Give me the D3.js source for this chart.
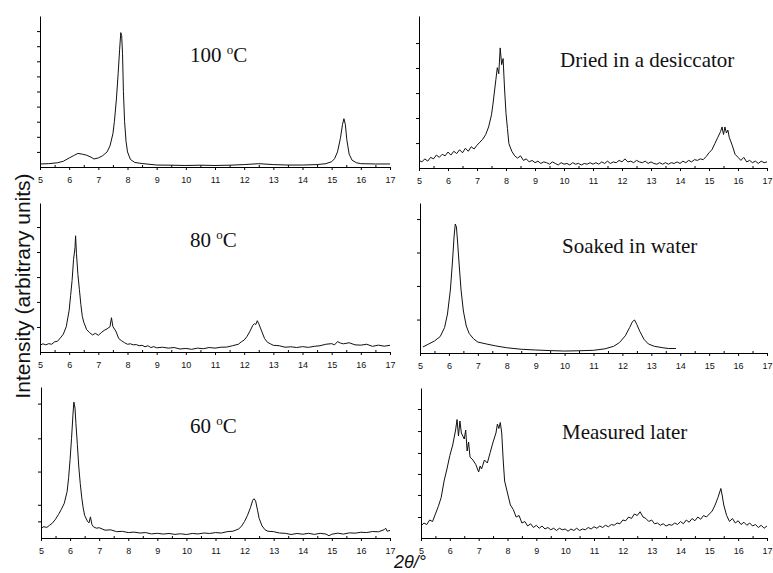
<!DOCTYPE html>
<html lang="en">
<head>
	<meta charset="UTF-8">
	<title>XRD</title>

	<script src="https://cdn.jsdelivr.net/npm/d3@7"></script>

	<style>
		body {
			margin: 0;
			background: #fff;
		}

		.axis path, .axis line {
			stroke: #000;
			stroke-width: 1;
		}

		.axis text {
			font-family: "Liberation Sans", Arial, sans-serif;
			font-size: 9px;
			fill: #111;
		}

		.trace {
			fill: none;
			stroke: #111;
			stroke-width: 1;
		}

		.title {
			font-family: "Liberation Serif", "Times New Roman", serif;
			font-size: 21px;
			fill: #111;
		}
	</style>

</head>
<body>

<script type="text/javascript">

	// 2theta tick labels
	var thetaTicks = [5, 6, 7, 8, 9, 10, 11, 12, 13, 14, 15, 16, 17];
	var thetaMinor = [5.5, 6.5, 7.5, 8.5, 9.5, 10.5, 11.5, 12.5, 13.5, 14.5, 15.5, 16.5];

	var panelTitles = ['100 °C', 'Dried in a desiccator', '80 °C', 'Soaked in water', '60 °C', 'Measured later'];

	// intensity, 0..100 = bottom..top of its axis
	var s100C = [[5.0, 2], [5.3, 2.2], [5.6, 2.8], [5.8, 3.8], [6.0, 6], [6.15, 7.5], [6.3, 9], [6.45, 8.5], [6.6, 7.8],
		[6.75, 6.5], [6.85, 5.3], [7.0, 6], [7.15, 7.5], [7.3, 10], [7.4, 14], [7.5, 22], [7.55, 30], [7.62, 45],
		[7.68, 62], [7.73, 78], [7.77, 89], [7.8, 87], [7.83, 75], [7.86, 50], [7.9, 30], [7.95, 17], [8.0, 10],
		[8.1, 5], [8.25, 3], [8.5, 2.3], [9.0, 1.3], [9.5, 1.2], [10.0, 1], [10.5, 1.2], [11.0, 1], [11.5, 1.2],
		[12.0, 1.6], [12.5, 2.2], [13.0, 1.6], [13.5, 1.3], [14.0, 1.3], [14.5, 1.6], [14.8, 2.2], [15.0, 3.5],
		[15.1, 5.5], [15.2, 10], [15.3, 19], [15.37, 28], [15.42, 32], [15.47, 28], [15.52, 18], [15.6, 8.5],
		[15.7, 4.5], [15.85, 2.8], [16.0, 2.2], [16.5, 2], [17.0, 2]];

	var sDried = [[5.0, 5], [5.1, 4], [5.2, 6], [5.3, 4.5], [5.4, 7], [5.5, 6], [5.6, 8.5], [5.7, 7], [5.8, 9], [5.9, 8],
		[6.0, 10.5], [6.1, 8.5], [6.2, 11], [6.3, 9.5], [6.4, 12], [6.5, 10], [6.6, 13], [6.7, 11], [6.8, 14],
		[6.9, 12.5], [7.0, 15], [7.1, 17], [7.2, 19], [7.3, 22], [7.4, 27], [7.5, 35], [7.55, 42], [7.6, 50],
		[7.65, 58], [7.7, 66], [7.75, 62], [7.8, 79], [7.85, 68], [7.9, 72], [7.95, 52], [8.0, 36], [8.05, 26],
		[8.1, 16], [8.2, 11], [8.3, 8], [8.4, 6.5], [8.5, 8], [8.6, 5], [8.7, 6], [8.8, 4], [8.9, 5], [9.0, 3.5],
		[9.1, 4.5], [9.2, 3], [9.3, 4], [9.4, 3.5], [9.5, 2.5], [9.6, 4], [9.7, 3], [9.8, 2], [9.9, 3.5], [10.0, 2.5],
		[10.1, 3], [10.2, 2], [10.3, 3.5], [10.4, 2.5], [10.5, 3], [10.6, 2], [10.7, 3], [10.8, 2.5], [10.9, 3.5],
		[11.0, 2.5], [11.1, 3.5], [11.2, 2.5], [11.3, 4], [11.4, 3], [11.5, 4.5], [11.6, 3], [11.7, 4], [11.8, 3.5],
		[11.9, 5], [12.0, 4], [12.1, 6], [12.2, 4], [12.3, 4.5], [12.4, 3.5], [12.5, 5], [12.6, 4], [12.7, 3.5],
		[12.8, 4.5], [12.9, 3], [13.0, 4], [13.1, 3], [13.2, 2.5], [13.3, 3.5], [13.4, 2.5], [13.5, 3.5], [13.6, 2.5],
		[13.7, 3.5], [13.8, 3], [13.9, 4], [14.0, 3], [14.1, 4.5], [14.2, 3.5], [14.3, 5], [14.4, 4], [14.5, 5.5],
		[14.6, 5], [14.7, 6], [14.8, 5.5], [14.9, 7.5], [15.0, 10], [15.1, 12], [15.2, 16], [15.3, 20], [15.4, 24],
		[15.45, 27], [15.5, 22], [15.55, 27], [15.6, 23], [15.65, 25], [15.7, 20], [15.8, 15], [15.9, 9], [16.0, 7],
		[16.1, 5], [16.2, 7], [16.3, 4], [16.4, 5], [16.5, 3.5], [16.6, 4.5], [16.7, 3], [16.8, 4.5], [16.9, 3.5],
		[17.0, 4]];

	var s80C = [[5.0, 4.5], [5.1, 5.5], [5.2, 4.8], [5.3, 5.6], [5.4, 5.2], [5.5, 6.8], [5.6, 7.2], [5.7, 9.5], [5.8, 12],
		[5.9, 17], [6.0, 28], [6.05, 38], [6.1, 48], [6.15, 62], [6.2, 70], [6.22, 78], [6.25, 66], [6.3, 52],
		[6.35, 42], [6.4, 32], [6.45, 24], [6.5, 20], [6.6, 15], [6.7, 13], [6.8, 11.5], [6.9, 12.5], [7.0, 11.2],
		[7.1, 13], [7.2, 14.5], [7.3, 15.5], [7.4, 17], [7.45, 23], [7.5, 17], [7.6, 14], [7.7, 9], [7.8, 7.5], [7.9, 6.2],
		[8.0, 5.2], [8.1, 5.5], [8.2, 4.8], [8.3, 5], [8.4, 4.2], [8.5, 4.5], [8.6, 3.5], [8.7, 4.2], [8.8, 3], [8.9, 3.6],
		[9.0, 2.8], [9.2, 3.2], [9.4, 2.6], [9.6, 3], [9.8, 2], [10.0, 2.4], [10.2, 1.8], [10.4, 2.6], [10.6, 2.2],
		[10.8, 3], [11.0, 2.6], [11.2, 3.2], [11.4, 3.3], [11.6, 4.2], [11.8, 5.2], [11.9, 6.8], [12.0, 8], [12.1, 10.5],
		[12.2, 14], [12.3, 18], [12.35, 19], [12.4, 18.5], [12.45, 21], [12.5, 19], [12.6, 14], [12.7, 9],
		[12.8, 6.5], [12.9, 5.5], [13.0, 4.5], [13.2, 4.2], [13.4, 3.2], [13.6, 3.5], [13.8, 3], [14.0, 3.6], [14.2, 3.1],
		[14.4, 3.8], [14.6, 4.2], [14.8, 5.2], [15.0, 5.6], [15.1, 4.8], [15.2, 7], [15.3, 6], [15.4, 5.5], [15.6, 6.2],
		[15.8, 4.8], [16.0, 4.6], [16.2, 5.2], [16.4, 3.8], [16.6, 4.6], [16.8, 3.9], [17.0, 4.5]];

	var sSoaked = [[5.1, 4], [5.3, 6], [5.5, 8], [5.7, 11], [5.85, 17], [5.95, 26], [6.05, 42], [6.12, 60], [6.18, 78],
		[6.22, 86], [6.26, 84], [6.3, 74], [6.35, 60], [6.42, 42], [6.5, 28], [6.6, 18], [6.7, 13], [6.85, 9.5],
		[7.0, 7.3], [7.3, 6], [7.6, 4.8], [8.0, 3.5], [8.5, 2.5], [9.0, 2], [9.5, 1.6], [10.0, 1.3], [10.5, 1.5],
		[11.0, 1.8], [11.4, 2.8], [11.7, 4.5], [11.9, 7], [12.1, 11.5], [12.25, 17], [12.35, 21], [12.42, 22],
		[12.5, 19], [12.6, 14.5], [12.75, 9], [12.9, 6], [13.1, 4.5], [13.4, 3.5], [13.6, 3], [13.85, 3]];

	var s60C = [[5.0, 6.5], [5.1, 7.5], [5.2, 7], [5.3, 8.5], [5.4, 10], [5.5, 12.5], [5.6, 15.5], [5.7, 19], [5.8, 23],
		[5.9, 31], [5.95, 40], [6.0, 52], [6.05, 66], [6.1, 82], [6.13, 90], [6.17, 86], [6.2, 76], [6.25, 62],
		[6.3, 47], [6.35, 36], [6.4, 27], [6.45, 20], [6.5, 15], [6.6, 11], [6.65, 10], [6.7, 14], [6.75, 9],
		[6.8, 7.5], [6.9, 6.5], [7.0, 6.8], [7.2, 5.2], [7.4, 5.4], [7.6, 4.2], [7.8, 4.4], [8.0, 3.6], [8.2, 3.9], [8.4, 3.3],
		[8.6, 3.6], [8.8, 2.7], [9.0, 3.1], [9.2, 2.6], [9.4, 3], [9.6, 2.4], [9.8, 2.8], [10.0, 2.3], [10.2, 3],
		[10.4, 2.7], [10.6, 3.3], [10.8, 3], [11.0, 3.6], [11.2, 3.3], [11.4, 4.2], [11.6, 4.5], [11.8, 6], [11.9, 8],
		[12.0, 11], [12.1, 15], [12.2, 20], [12.28, 25], [12.32, 26], [12.38, 24.5], [12.45, 18], [12.5, 13],
		[12.6, 8], [12.7, 5.5], [12.8, 4.5], [13.0, 4.2], [13.2, 3.3], [13.4, 3.1], [13.6, 2.3], [13.8, 3], [14.0, 2.5],
		[14.2, 3.1], [14.4, 2.4], [14.6, 3.1], [14.8, 2.6], [14.9, 1.5], [15.0, 2.5], [15.2, 3.2], [15.4, 2.6], [15.6, 3.4],
		[15.8, 3.2], [16.0, 3.8], [16.2, 3.6], [16.4, 4.3], [16.6, 4.1], [16.8, 5.5], [16.85, 6.5], [16.9, 4.5], [17.0, 5]];

	var sLater = [[5.0, 8], [5.1, 10], [5.2, 9], [5.3, 12], [5.4, 11], [5.5, 16], [5.6, 21], [5.7, 27], [5.8, 38],
		[5.9, 46], [6.0, 55], [6.1, 62], [6.2, 72], [6.25, 79], [6.3, 68], [6.35, 78], [6.4, 70], [6.5, 66],
		[6.55, 72], [6.6, 58], [6.65, 64], [6.7, 54], [6.8, 52], [6.9, 49], [7.0, 44], [7.05, 48], [7.1, 46],
		[7.2, 52], [7.3, 50], [7.4, 57], [7.5, 64], [7.6, 70], [7.65, 76], [7.7, 73], [7.75, 77], [7.8, 70],
		[7.85, 52], [7.9, 38], [8.0, 30], [8.1, 22], [8.2, 19], [8.3, 14], [8.4, 15], [8.5, 10], [8.6, 11], [8.7, 8],
		[8.8, 9.5], [8.9, 7], [9.0, 8.5], [9.1, 6.5], [9.2, 8], [9.3, 6], [9.4, 7], [9.5, 5.5], [9.6, 6.5], [9.7, 5],
		[9.8, 6.5], [9.9, 5.5], [10.0, 6], [10.1, 4.5], [10.2, 6], [10.3, 5], [10.4, 6.5], [10.5, 5], [10.6, 6],
		[10.7, 5.5], [10.8, 7], [10.9, 6], [11.0, 7.5], [11.1, 6.5], [11.2, 8], [11.3, 7], [11.4, 8.5], [11.5, 7.5],
		[11.6, 9], [11.7, 8.5], [11.8, 10], [11.9, 9.5], [12.0, 12], [12.1, 11.5], [12.2, 14], [12.3, 13], [12.4, 16],
		[12.5, 15], [12.6, 17.5], [12.7, 14], [12.8, 13], [12.9, 11], [13.0, 12], [13.1, 9.5], [13.2, 10], [13.3, 8.5],
		[13.4, 9.5], [13.5, 8], [13.6, 9], [13.7, 8.5], [13.8, 10], [13.9, 9], [14.0, 11], [14.1, 9.5], [14.2, 12],
		[14.3, 10.5], [14.4, 13], [14.5, 11.5], [14.6, 14], [14.7, 12.5], [14.8, 15], [14.9, 14], [15.0, 16],
		[15.1, 18], [15.2, 22], [15.3, 27], [15.4, 33], [15.45, 28], [15.5, 22], [15.6, 15], [15.7, 11], [15.8, 13],
		[15.9, 10], [16.0, 11.5], [16.1, 9], [16.2, 10.5], [16.3, 8.5], [16.4, 10], [16.5, 8], [16.6, 9], [16.7, 7],
		[16.8, 8.5], [16.9, 6.5], [17.0, 8]];

	// y tick positions for each panel (same 0..100 scale)
	var yTicks100C = [10, 20, 30, 40, 50, 60, 70, 80, 90];
	var yTicksDried = [16.4, 32.9, 49.3, 65.8, 82.2];
	var yTicks80C = [16.8, 33.6, 50.3, 67.1, 83.9];
	var yTicksSoaked = [22.3, 44.7, 67, 89.3];
	var yTicks60C = [11, 22, 44, 66, 89];
	var yTicksLater = [14, 28.7, 42.7, 56.7, 71.3, 86];

	var series = [s100C, sDried, s80C, sSoaked, s60C, sLater];
	var yTicks = [yTicks100C, yTicksDried, yTicks80C, yTicksSoaked, yTicks60C, yTicksLater];

	// panel boxes in page pixels
	var boxes = [
		{left: 40, right: 390, top: 16, bottom: 167, tx: 190, ty: 62},
		{left: 419, right: 767, top: 16, bottom: 168, tx: 560, ty: 67},
		{left: 40, right: 390, top: 203, bottom: 352, tx: 190, ty: 247},
		{left: 420, right: 767, top: 203, bottom: 353, tx: 562, ty: 253},
		{left: 41, right: 390, top: 387, bottom: 538, tx: 190, ty: 433},
		{left: 421, right: 767, top: 388, bottom: 538, tx: 562, ty: 439}
	];

	var svg = d3.select('body').append('svg')
		.attr('width', 773)
		.attr('height', 573);

	boxes.forEach(function (b, i) {
		var x = d3.scaleLinear().domain([5, 17]).range([b.left, b.right]);
		var y = d3.scaleLinear().domain([0, 100]).range([b.bottom, b.top]);

		var g = svg.append('g');

		// minor half ticks
		g.append('g')
			.attr('class', 'axis')
			.attr('transform', 'translate(0,' + b.bottom + ')')
			.call(d3.axisBottom(x).tickValues(thetaMinor).tickSize(-2).tickFormat(''))
			.select('.domain').remove();

		g.append('g')
			.attr('class', 'axis axis--x')
			.attr('transform', 'translate(0,' + b.bottom + ')')
			.call(d3.axisBottom(x).tickValues(thetaTicks).tickSize(3).tickSizeOuter(0).tickPadding(7)
				.tickFormat(d3.format('d')));

		g.append('g')
			.attr('class', 'axis axis--y')
			.attr('transform', 'translate(' + b.left + ',0)')
			.call(d3.axisLeft(y).tickValues(yTicks[i]).tickSize(3).tickSizeOuter(0).tickFormat(''));

		var line = d3.line()
			.x(function (d) { return x(d[0]); })
			.y(function (d) { return y(d[1]); });

		g.append('path')
			.datum(series[i])
			.attr('class', 'trace')
			.attr('d', line);

		// title: degree shown as raised small "o" like the original
		var parts = panelTitles[i].split('°');
		var t = g.append('text')
			.attr('class', 'title')
			.attr('x', b.tx)
			.attr('y', b.ty);
		t.append('tspan').text(parts[0]);
		if (parts.length > 1) {
			t.append('tspan').attr('dy', -8).style('font-size', '13px').text('o');
			t.append('tspan').attr('dy', 8).text(parts[1]);
		}
	});

	svg.append('text')
		.attr('transform', 'translate(30,286) rotate(-90)')
		.attr('text-anchor', 'middle')
		.style('font-family', '"Liberation Sans", Arial, sans-serif')
		.style('font-size', '21px')
		.style('fill', '#111')
		.text('Intensity (arbitrary units)');

	svg.append('text')
		.attr('x', 410)
		.attr('y', 568)
		.attr('text-anchor', 'middle')
		.style('font-family', '"Liberation Sans", Arial, sans-serif')
		.style('font-size', '18px')
		.style('font-style', 'italic')
		.style('fill', '#111')
		.text('2θ/°');

</script>

</body>
</html>
